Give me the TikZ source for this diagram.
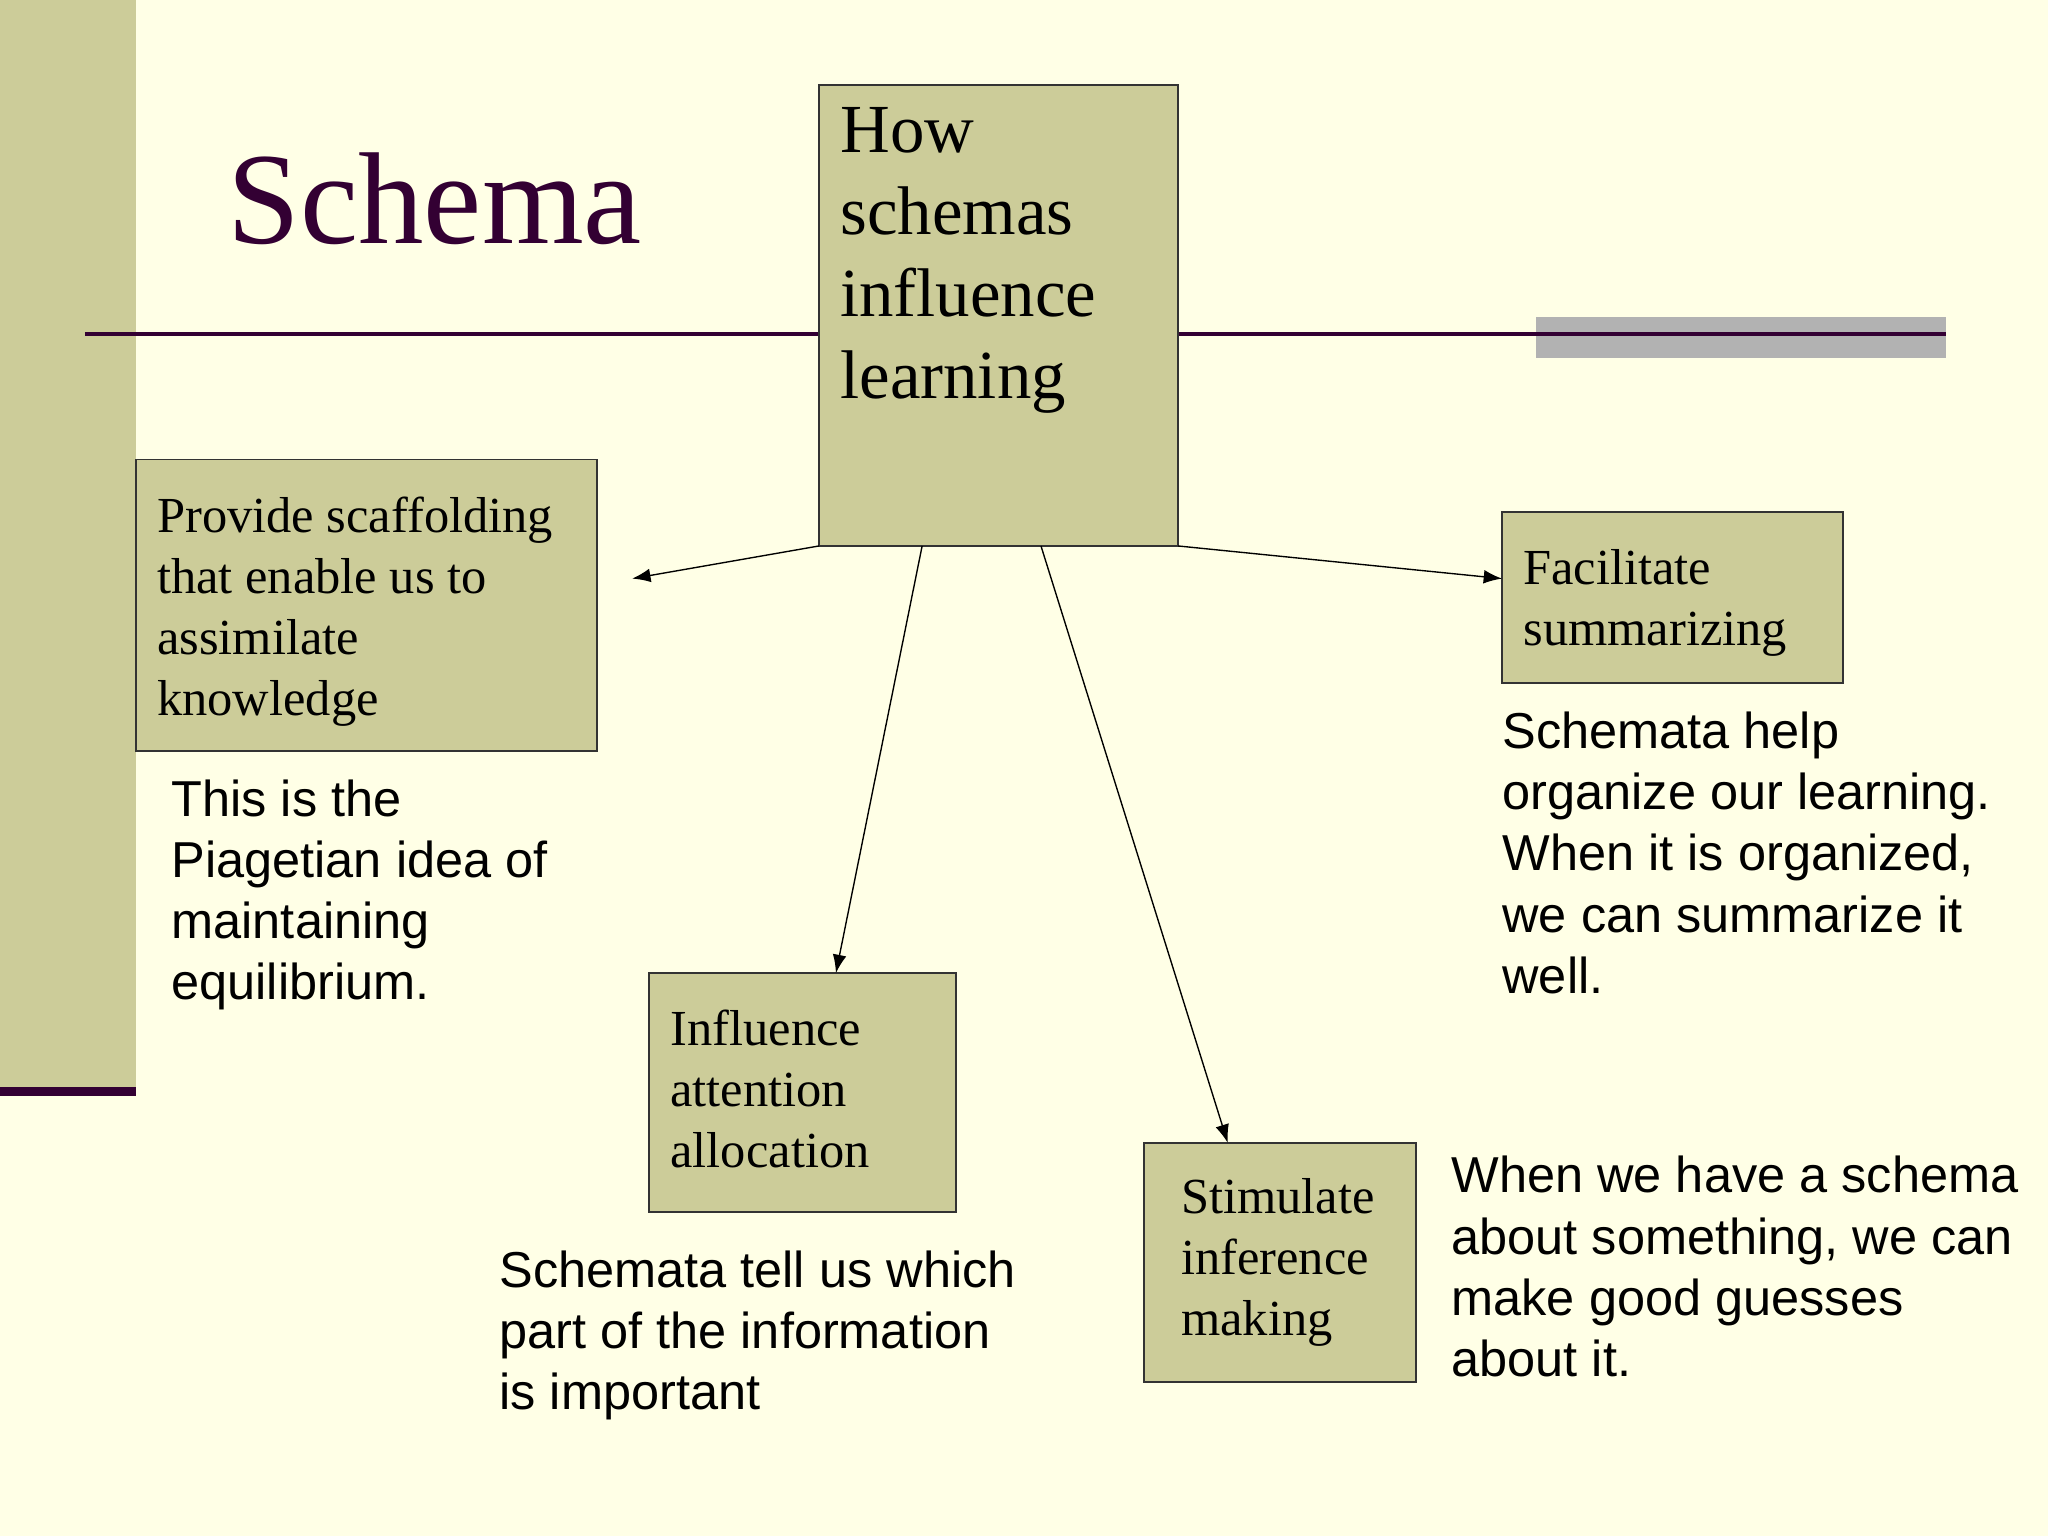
\documentclass[tikz,border=0pt]{standalone}
\usepackage{fontspec}
\setmainfont{Liberation Serif}
\newfontfamily\notefont{Liberation Sans}
\usetikzlibrary{arrows.meta}
\definecolor{bg}{HTML}{FFFFE6}
\definecolor{olive}{HTML}{CCCC99}
\definecolor{plum}{HTML}{330033}
\tikzset{
  px/.style={x=0.02cm,y=-0.02cm},
  box/.style={draw=black!80,fill=olive,line width=0.6pt},
  boxtxt/.style={anchor=north west,inner sep=0pt,align=left,font=\fontsize{22}{26.6}\selectfont},
  note/.style={anchor=north west,inner sep=0pt,align=left,font=\notefont\fontsize{22}{26.6}\selectfont},
  arr/.style={-{Latex[length=8pt,width=6pt]},line width=0.6pt}
}
\begin{document}
\begin{tikzpicture}[px]
\fill[bg] (0,0) rectangle (1568,1176);
\useasboundingbox (0,0) rectangle (1568,1176);
\fill[olive] (0,0) rectangle (104,835);
\fill[plum] (0,832) rectangle (104,839);
\fill[black!30] (1176,243) rectangle (1490,274);
\draw[plum,line width=1.8pt] (65,256) -- (1490,256);
\node[anchor=west,inner sep=0pt,text=plum,font=\fontsize{57}{60}\selectfont] (title) at (174,152) {Schema};
% boxes
\draw[box] (627,65) rectangle (902,418);
\coordinate (c1) at (627,418); \coordinate (c2) at (706,418);
\coordinate (c3) at (797,418); \coordinate (c4) at (902,418);
\node[boxtxt,font=\fontsize{30}{35.7}\selectfont] (center) at (643,82) {How\\schemas\\influence\\learning};
\draw[box] (104,352) rectangle (457,575);
\node[boxtxt] (left) at (120,380) {Provide scaffolding\\that enable us to\\assimilate\\knowledge};
\coordinate (lt) at (484,443);
\draw[box] (1150,392) rectangle (1411,523);
\node[boxtxt] (right) at (1166,420) {Facilitate\\summarizing};
\coordinate (rt) at (1150,443);
\draw[box] (497,745) rectangle (732,928);
\node[boxtxt] (mid) at (513,773) {Influence\\attention\\allocation};
\coordinate (mt) at (640,745);
\draw[box] (876,875) rectangle (1084,1058);
\node[boxtxt] (stim) at (904,902) {Stimulate\\inference\\making};
\coordinate (st) at (940,875);
% arrows
\draw[arr] (c1) -- (lt);
\draw[arr] (c2) -- (mt);
\draw[arr] (c3) -- (st);
\draw[arr] (c4) -- (rt);
% notes
\node[note] (n1) at (131,597) {This is the\\Piagetian idea of\\maintaining\\equilibrium.};
\node[note] (n2) at (382,957) {Schemata tell us which\\part of the information\\is important};
\node[note] (n3) at (1150,545) {Schemata help\\organize our learning.\\When it is organized,\\we can summarize it\\well.};
\node[note] (n4) at (1111,885) {When we have a schema\\about something, we can\\make good guesses\\about it.};
\end{tikzpicture}
\end{document}
